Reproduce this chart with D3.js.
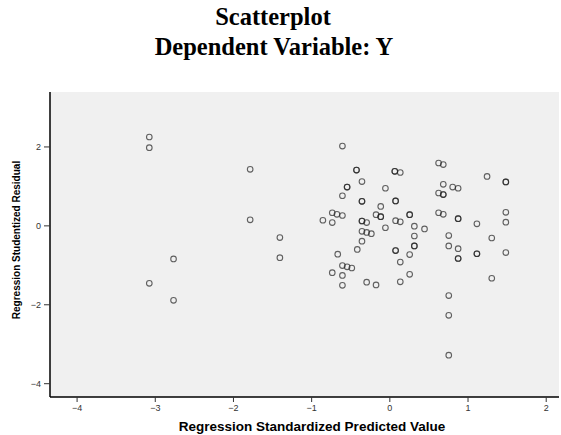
<!DOCTYPE html>
<html>
<head>
<meta charset="utf-8">
<script src="https://cdn.jsdelivr.net/npm/d3@7"></script>
<style>
  body { margin: 0; background: #fff; }
</style>
</head>
<body>
<div id="scatter"></div>
<script>
// data (predicted value, studentized residual)
var predicted = [
  -3.07, -3.07, -1.78, -1.78, -1.40, -1.40, -2.76, -3.07, -2.76,
  -0.60, -0.42, -0.42, 0.07, 0.07, 0.14, 0.63, 0.69, 1.25, 1.49, 1.49,
  -0.35, -0.54, -0.54, -0.05, 0.69, 0.81, 0.88, -0.60, 0.63, 0.69, 0.69,
  -0.35, -0.35, 0.08, 0.08, -0.11, -0.73, -0.67, -0.60, -0.17, -0.11, -0.11,
  0.26, 0.26, 0.63, 0.69, 1.49, -0.85, -0.73, -0.35, -0.35, -0.29, 0.08,
  0.14, 0.88, 0.88, 1.12, 1.49, 0.32, 0.45, -0.05, -0.35, -0.29, -0.23,
  0.32, 0.76, 1.31, -0.35, 0.32, 0.32, 0.76, 0.88, -0.66, -0.41, 0.08, 0.08,
  0.26, 0.88, 0.88, 1.12, 1.12, 1.49, 0.14, -0.60, -0.54, -0.48, -0.73,
  -0.60, -0.60, -0.29, -0.17, 0.14, 0.26, 1.31, 0.76, 0.76, 0.76
];
var residual = [
  2.24, 1.97, 1.42, 0.14, -0.31, -0.82, -0.85, -1.47, -1.90,
  2.01, 1.40, 1.40, 1.37, 1.37, 1.34, 1.58, 1.54, 1.24, 1.10, 1.10,
  1.11, 0.97, 0.97, 0.94, 1.04, 0.97, 0.94, 0.75, 0.82, 0.78, 0.78,
  0.61, 0.61, 0.62, 0.62, 0.48, 0.32, 0.28, 0.25, 0.27, 0.22, 0.22,
  0.27, 0.27, 0.32, 0.28, 0.33, 0.13, 0.07, 0.11, 0.11, 0.07, 0.12,
  0.09, 0.17, 0.17, 0.04, 0.08, -0.02, -0.09, -0.06, -0.15, -0.18, -0.21,
  -0.27, -0.26, -0.32, -0.40, -0.52, -0.52, -0.52, -0.59, -0.73, -0.61, -0.64, -0.64,
  -0.74, -0.84, -0.84, -0.72, -0.72, -0.69, -0.93, -1.02, -1.05, -1.08, -1.20,
  -1.27, -1.52, -1.44, -1.51, -1.43, -1.24, -1.34, -1.78, -2.28, -3.29
];
var xTicks = [-4, -3, -2, -1, 0, 1, 2];
var yTicks = [-4, -2, 0, 2];

var W = 561, H = 435;
var margin = { top: 92, right: 2, bottom: 38, left: 50 },
    width = W - margin.left - margin.right,
    height = H - margin.top - margin.bottom;

var svg = d3.select("#scatter")
    .append("svg")
    .attr("width", W)
    .attr("height", H);

// titles
svg.append("text")
    .attr("x", 273).attr("y", 25)
    .style("text-anchor", "middle")
    .style("font-family", "'Liberation Serif', 'Times New Roman', serif")
    .style("font-weight", "bold")
    .style("font-size", "24.5px")
    .text("Scatterplot");
svg.append("text")
    .attr("x", 274).attr("y", 55)
    .style("text-anchor", "middle")
    .style("font-family", "'Liberation Serif', 'Times New Roman', serif")
    .style("font-weight", "bold")
    .style("font-size", "24.5px")
    .text("Dependent Variable: Y");

var g = svg.append("g")
    .attr("transform", "translate(" + margin.left + "," + margin.top + ")");

var x = d3.scaleLinear().domain([-4.34, 2.17]).range([0, width]);
var y = d3.scaleLinear().domain([-4.35, 3.38]).range([height, 0]);

g.append("rect")
    .attr("width", width).attr("height", height)
    .attr("fill", "#f0f0f0");

// axes
var xAxis = g.append("g")
    .attr("transform", "translate(0," + height + ")")
    .call(d3.axisBottom(x).tickValues(xTicks).tickSize(5).tickPadding(3)
        .tickFormat(d3.format("d")));
var yAxis = g.append("g")
    .call(d3.axisLeft(y).tickValues(yTicks).tickSize(6).tickPadding(3)
        .tickFormat(d3.format("d")));

[xAxis, yAxis].forEach(function (a) {
    a.select(".domain").attr("stroke", "#000").attr("stroke-width", 1.5);
    a.selectAll(".tick line").attr("stroke", "#333");
    a.selectAll(".tick text")
        .style("font-family", "'Liberation Sans', Arial, sans-serif")
        .style("font-size", "9px")
        .attr("fill", "#333");
});
xAxis.select(".domain").attr("d", "M0,0H" + width);
yAxis.select(".domain").attr("d", "M0,0V" + height);

// axis labels
svg.append("text")
    .attr("x", 312).attr("y", 431)
    .style("text-anchor", "middle")
    .style("font-family", "'Liberation Sans', Arial, sans-serif")
    .style("font-weight", "bold")
    .style("font-size", "13.5px")
    .text("Regression Standardized Predicted Value");
svg.append("text")
    .attr("transform", "translate(20,240) rotate(-90)")
    .style("text-anchor", "middle")
    .style("font-family", "'Liberation Sans', Arial, sans-serif")
    .style("font-weight", "bold")
    .style("font-size", "10px")
    .text("Regression Studentized Residual");

// points
g.append("g")
    .selectAll("circle")
    .data(d3.range(predicted.length))
    .enter()
    .append("circle")
    .attr("cx", function (i) { return x(predicted[i]); })
    .attr("cy", function (i) { return y(residual[i]); })
    .attr("r", 2.8)
    .attr("fill", "none")
    .attr("stroke", "#222")
    .attr("stroke-opacity", 0.7)
    .attr("stroke-width", 1.1);
</script>
</body>
</html>
